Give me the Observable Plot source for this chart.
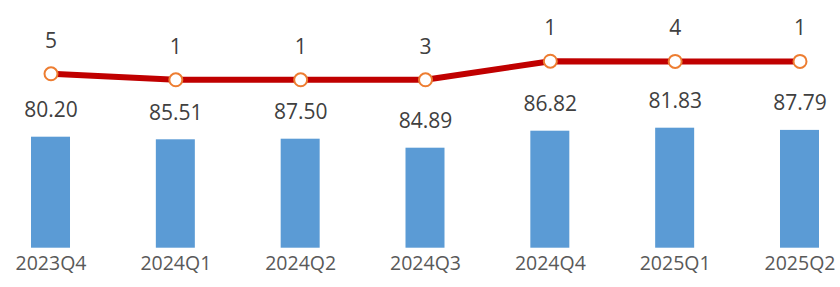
<!DOCTYPE html>
<html><head><meta charset="utf-8">
<script src="https://cdn.jsdelivr.net/npm/d3@7"></script>
<script src="https://cdn.jsdelivr.net/npm/@observablehq/plot@0.6"></script>
<style>body{margin:0;background:#fff}</style>
</head><body><div id="chart"></div>
<script>
const quarters = ["2023Q4", "2024Q1", "2024Q2", "2024Q3", "2024Q4", "2025Q1", "2025Q2"];
const scoreLabels = ["80.20", "85.51", "87.50", "84.89", "86.82", "81.83", "87.79"];
const barHeights = [55.5, 54.2, 54.5, 50.0, 58.5, 60.0, 58.9];
const ranks = [5, 1, 1, 3, 1, 4, 1];
const rankLine = [87.2, 84.2, 84.2, 84.2, 93.5, 93.4, 93.4];

const data = quarters.map((q, i) => ({q, bar: barHeights[i], label: scoreLabels[i], rank: ranks[i], line: rankLine[i]}));

const chart = Plot.plot({
  width: 840, height: 287,
  marginTop: 47.7, marginBottom: 39.3, marginLeft: 0, marginRight: 0,
  x: {domain: quarters, range: [0, 850], paddingInner: 0.6876, paddingOuter: 0.2484, round: false, axis: null},
  y: {domain: [0, 100], axis: null},
  style: {fontFamily: "'Open Sans', sans-serif", background: "#fff", overflow: "visible"},
  marks: [
    Plot.barY(data, {x: "q", y: "bar", fill: "#5B9BD5"}),
    Plot.text(data, {x: "q", y: "bar", text: "label", dy: -27, fontSize: 21, fill: "#404040"}),
    Plot.line(data, {x: "q", y: "line", stroke: "#C00000", strokeWidth: 6}),
    Plot.dot(data, {x: "q", y: "line", r: 6.5, fill: "white", stroke: "#ED7D31", strokeWidth: 2}),
    Plot.text(data, {x: "q", y: "line", text: d => String(d.rank), dy: -33, fontSize: 21, fill: "#404040"}),
    Plot.axisX({tickSize: 0, tickPadding: 7.5, fontSize: 19.5, fill: "#595959", label: null})
  ]
});
document.getElementById("chart").appendChild(chart);
</script>
</body></html>
